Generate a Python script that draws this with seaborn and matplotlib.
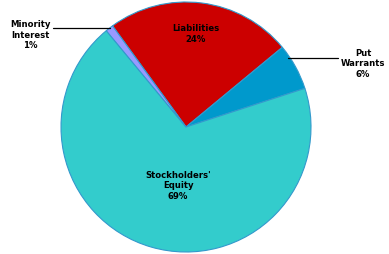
import matplotlib
matplotlib.use("Agg")
import matplotlib.pyplot as plt
import seaborn as sns

sns.set_theme(style="white")
plt.rcParams['font.family'] = ['DejaVu Sans']

categories = ["Liabilities", "Put\nWarrants", "Stockholders'\nEquity", "Minority\nInterest"]
values = [24, 6, 69, 1]
colors = ["#CC0000", "#0099CC", "#33CCCC", "#9999FF"]

W, H = 389, 254
CX, CY, R = 186, 127, 125

fig = plt.figure(figsize=(W / 100, H / 100), dpi=100)
ax = fig.add_axes([0, 0, 1, 1])

def px(x, y):
    return ((x - CX) / R, (CY - y) / R)

ax.pie(values, colors=colors, startangle=126, counterclock=False, radius=1,
       wedgeprops=dict(edgecolor="#3399CC", linewidth=0.8))

ax.set_xlim(-CX / R, (W - CX) / R)
ax.set_ylim(-(H - CY) / R, CY / R)
ax.set_aspect('equal')
ax.axis('off')

fs = 6.1
kw = dict(ha="center", va="center", fontsize=fs, fontweight="bold", color="black", linespacing=1.15)

ax.text(*px(196, 34), f"{categories[0]}\n{values[0]}%", **kw)
ax.text(*px(363, 64), f"{categories[1]}\n{values[1]}%", **kw)
ax.text(*px(178, 186), f"{categories[2]}\n{values[2]}%", **kw)
ax.text(*px(30, 35), f"{categories[3]}\n{values[3]}%", **kw)

# leader lines
x0, y0 = px(288, 58); x1, y1 = px(338, 58)
ax.plot([x0, x1], [y0, y1], color="black", linewidth=0.9)
x0, y0 = px(53, 28); x1, y1 = px(110, 28)
ax.plot([x0, x1], [y0, y1], color="black", linewidth=0.9)

fig.savefig("out.png", dpi=100, facecolor="white")
